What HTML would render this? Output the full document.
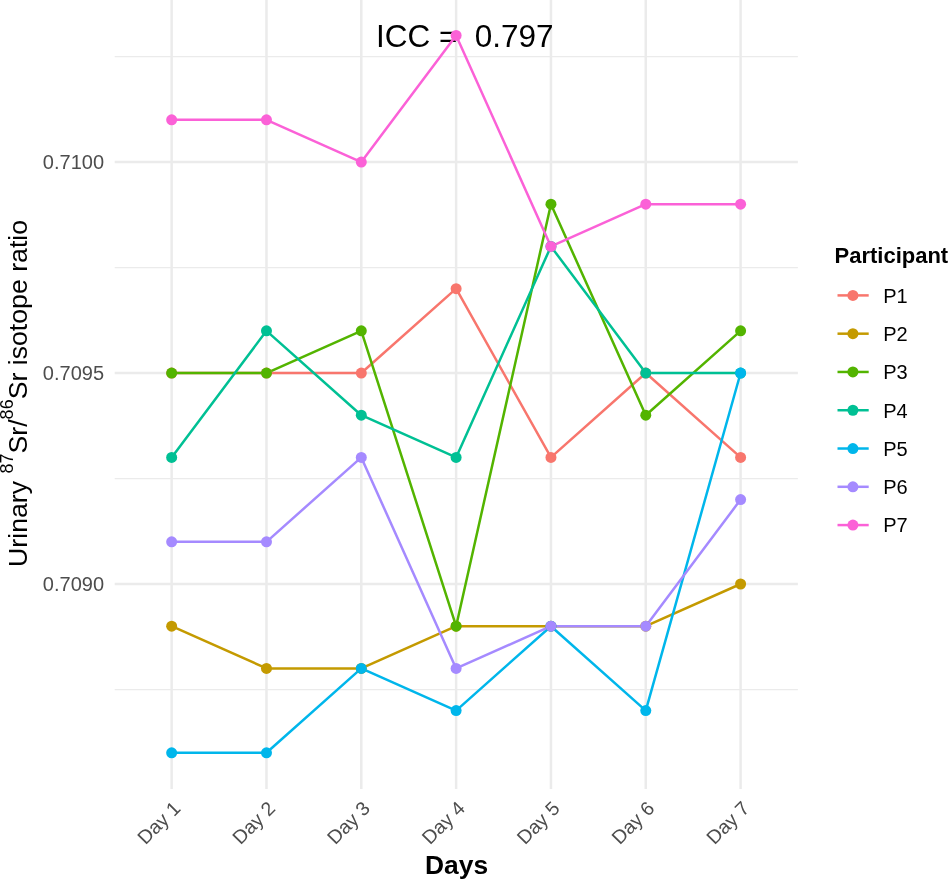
<!DOCTYPE html><html><head><meta charset="utf-8"><style>html,body{margin:0;padding:0;background:#fff;}svg{display:block;will-change:transform;}text{font-family:"Liberation Sans",sans-serif;}</style></head><body>
<svg width="948" height="880" viewBox="0 0 948 880">
<rect width="948" height="880" fill="#fff"/>
<line x1="114.7" x2="797.9" y1="56.54" y2="56.54" stroke="#EBEBEB" stroke-width="1.25"/>
<line x1="114.7" x2="797.9" y1="267.53" y2="267.53" stroke="#EBEBEB" stroke-width="1.25"/>
<line x1="114.7" x2="797.9" y1="478.51" y2="478.51" stroke="#EBEBEB" stroke-width="1.25"/>
<line x1="114.7" x2="797.9" y1="689.50" y2="689.50" stroke="#EBEBEB" stroke-width="1.25"/>
<line x1="114.7" x2="797.9" y1="162.04" y2="162.04" stroke="#EBEBEB" stroke-width="2.5"/>
<line x1="114.7" x2="797.9" y1="373.02" y2="373.02" stroke="#EBEBEB" stroke-width="2.5"/>
<line x1="114.7" x2="797.9" y1="584.01" y2="584.01" stroke="#EBEBEB" stroke-width="2.5"/>
<line x1="171.65" x2="171.65" y1="-0.9" y2="788.9" stroke="#EBEBEB" stroke-width="2.5"/>
<line x1="266.48" x2="266.48" y1="-0.9" y2="788.9" stroke="#EBEBEB" stroke-width="2.5"/>
<line x1="361.30" x2="361.30" y1="-0.9" y2="788.9" stroke="#EBEBEB" stroke-width="2.5"/>
<line x1="456.12" x2="456.12" y1="-0.9" y2="788.9" stroke="#EBEBEB" stroke-width="2.5"/>
<line x1="550.95" x2="550.95" y1="-0.9" y2="788.9" stroke="#EBEBEB" stroke-width="2.5"/>
<line x1="645.77" x2="645.77" y1="-0.9" y2="788.9" stroke="#EBEBEB" stroke-width="2.5"/>
<line x1="740.60" x2="740.60" y1="-0.9" y2="788.9" stroke="#EBEBEB" stroke-width="2.5"/>
<text x="375.9" y="46.8" font-size="31.5" fill="#000" style="white-space:pre">ICC =  0.797</text>
<polyline points="171.65,373.02 266.48,373.02 361.30,373.02 456.12,288.63 550.95,457.42 645.77,373.02 740.60,457.42" fill="none" stroke="#F8766D" stroke-width="2.5" stroke-linejoin="round" stroke-linecap="butt"/>
<polyline points="171.65,626.20 266.48,668.40 361.30,668.40 456.12,626.20 550.95,626.20 645.77,626.20 740.60,584.01" fill="none" stroke="#C49A00" stroke-width="2.5" stroke-linejoin="round" stroke-linecap="butt"/>
<polyline points="171.65,373.02 266.48,373.02 361.30,330.82 456.12,626.20 550.95,204.23 645.77,415.22 740.60,330.82" fill="none" stroke="#53B400" stroke-width="2.5" stroke-linejoin="round" stroke-linecap="butt"/>
<polyline points="171.65,457.42 266.48,330.82 361.30,415.22 456.12,457.42 550.95,246.43 645.77,373.02 740.60,373.02" fill="none" stroke="#00C094" stroke-width="2.5" stroke-linejoin="round" stroke-linecap="butt"/>
<polyline points="171.65,752.79 266.48,752.79 361.30,668.40 456.12,710.60 550.95,626.20 645.77,710.60 740.60,373.02" fill="none" stroke="#00B6EB" stroke-width="2.5" stroke-linejoin="round" stroke-linecap="butt"/>
<polyline points="171.65,541.81 266.48,541.81 361.30,457.42 456.12,668.40 550.95,626.20 645.77,626.20 740.60,499.61" fill="none" stroke="#A58AFF" stroke-width="2.5" stroke-linejoin="round" stroke-linecap="butt"/>
<polyline points="171.65,119.84 266.48,119.84 361.30,162.04 456.12,35.45 550.95,246.43 645.77,204.23 740.60,204.23" fill="none" stroke="#FB61D7" stroke-width="2.5" stroke-linejoin="round" stroke-linecap="butt"/>
<circle cx="171.65" cy="373.02" r="5.5" fill="#F8766D"/>
<circle cx="266.48" cy="373.02" r="5.5" fill="#F8766D"/>
<circle cx="361.30" cy="373.02" r="5.5" fill="#F8766D"/>
<circle cx="456.12" cy="288.63" r="5.5" fill="#F8766D"/>
<circle cx="550.95" cy="457.42" r="5.5" fill="#F8766D"/>
<circle cx="645.77" cy="373.02" r="5.5" fill="#F8766D"/>
<circle cx="740.60" cy="457.42" r="5.5" fill="#F8766D"/>
<circle cx="171.65" cy="626.20" r="5.5" fill="#C49A00"/>
<circle cx="266.48" cy="668.40" r="5.5" fill="#C49A00"/>
<circle cx="361.30" cy="668.40" r="5.5" fill="#C49A00"/>
<circle cx="456.12" cy="626.20" r="5.5" fill="#C49A00"/>
<circle cx="550.95" cy="626.20" r="5.5" fill="#C49A00"/>
<circle cx="645.77" cy="626.20" r="5.5" fill="#C49A00"/>
<circle cx="740.60" cy="584.01" r="5.5" fill="#C49A00"/>
<circle cx="171.65" cy="373.02" r="5.5" fill="#53B400"/>
<circle cx="266.48" cy="373.02" r="5.5" fill="#53B400"/>
<circle cx="361.30" cy="330.82" r="5.5" fill="#53B400"/>
<circle cx="456.12" cy="626.20" r="5.5" fill="#53B400"/>
<circle cx="550.95" cy="204.23" r="5.5" fill="#53B400"/>
<circle cx="645.77" cy="415.22" r="5.5" fill="#53B400"/>
<circle cx="740.60" cy="330.82" r="5.5" fill="#53B400"/>
<circle cx="171.65" cy="457.42" r="5.5" fill="#00C094"/>
<circle cx="266.48" cy="330.82" r="5.5" fill="#00C094"/>
<circle cx="361.30" cy="415.22" r="5.5" fill="#00C094"/>
<circle cx="456.12" cy="457.42" r="5.5" fill="#00C094"/>
<circle cx="550.95" cy="246.43" r="5.5" fill="#00C094"/>
<circle cx="645.77" cy="373.02" r="5.5" fill="#00C094"/>
<circle cx="740.60" cy="373.02" r="5.5" fill="#00C094"/>
<circle cx="171.65" cy="752.79" r="5.5" fill="#00B6EB"/>
<circle cx="266.48" cy="752.79" r="5.5" fill="#00B6EB"/>
<circle cx="361.30" cy="668.40" r="5.5" fill="#00B6EB"/>
<circle cx="456.12" cy="710.60" r="5.5" fill="#00B6EB"/>
<circle cx="550.95" cy="626.20" r="5.5" fill="#00B6EB"/>
<circle cx="645.77" cy="710.60" r="5.5" fill="#00B6EB"/>
<circle cx="740.60" cy="373.02" r="5.5" fill="#00B6EB"/>
<circle cx="171.65" cy="541.81" r="5.5" fill="#A58AFF"/>
<circle cx="266.48" cy="541.81" r="5.5" fill="#A58AFF"/>
<circle cx="361.30" cy="457.42" r="5.5" fill="#A58AFF"/>
<circle cx="456.12" cy="668.40" r="5.5" fill="#A58AFF"/>
<circle cx="550.95" cy="626.20" r="5.5" fill="#A58AFF"/>
<circle cx="645.77" cy="626.20" r="5.5" fill="#A58AFF"/>
<circle cx="740.60" cy="499.61" r="5.5" fill="#A58AFF"/>
<circle cx="171.65" cy="119.84" r="5.5" fill="#FB61D7"/>
<circle cx="266.48" cy="119.84" r="5.5" fill="#FB61D7"/>
<circle cx="361.30" cy="162.04" r="5.5" fill="#FB61D7"/>
<circle cx="456.12" cy="35.45" r="5.5" fill="#FB61D7"/>
<circle cx="550.95" cy="246.43" r="5.5" fill="#FB61D7"/>
<circle cx="645.77" cy="204.23" r="5.5" fill="#FB61D7"/>
<circle cx="740.60" cy="204.23" r="5.5" fill="#FB61D7"/>
<text x="104.0" y="169.04" font-size="20" fill="#4D4D4D" text-anchor="end">0.7100</text>
<text x="104.0" y="380.02" font-size="20" fill="#4D4D4D" text-anchor="end">0.7095</text>
<text x="104.0" y="591.01" font-size="20" fill="#4D4D4D" text-anchor="end">0.7090</text>
<text transform="translate(181.65,809.50) rotate(-45)" font-size="19.5" fill="#4D4D4D" text-anchor="end">Day 1</text>
<text transform="translate(276.48,809.50) rotate(-45)" font-size="19.5" fill="#4D4D4D" text-anchor="end">Day 2</text>
<text transform="translate(371.30,809.50) rotate(-45)" font-size="19.5" fill="#4D4D4D" text-anchor="end">Day 3</text>
<text transform="translate(466.12,809.50) rotate(-45)" font-size="19.5" fill="#4D4D4D" text-anchor="end">Day 4</text>
<text transform="translate(560.95,809.50) rotate(-45)" font-size="19.5" fill="#4D4D4D" text-anchor="end">Day 5</text>
<text transform="translate(655.77,809.50) rotate(-45)" font-size="19.5" fill="#4D4D4D" text-anchor="end">Day 6</text>
<text transform="translate(750.60,809.50) rotate(-45)" font-size="19.5" fill="#4D4D4D" text-anchor="end">Day 7</text>
<text x="456.6" y="874" font-size="26.4" font-weight="bold" fill="#000" text-anchor="middle">Days</text>
<text transform="translate(27.0,393.4) rotate(-90)" font-size="26.7" fill="#000" text-anchor="middle">Urinary <tspan font-size="18" dy="-13.6">87</tspan><tspan dy="13.6">Sr/</tspan><tspan font-size="18" dy="-13.6">86</tspan><tspan dy="13.6">Sr isotope ratio</tspan></text>
<text x="834.5" y="262.8" font-size="22" font-weight="bold" fill="#000">Participant</text>
<line x1="837.5" x2="868.7" y1="295.40" y2="295.40" stroke="#F8766D" stroke-width="2.5"/>
<circle cx="852.9" cy="295.40" r="5.5" fill="#F8766D"/>
<text x="883.2" y="302.80" font-size="20" fill="#000">P1</text>
<line x1="837.5" x2="868.7" y1="333.68" y2="333.68" stroke="#C49A00" stroke-width="2.5"/>
<circle cx="852.9" cy="333.68" r="5.5" fill="#C49A00"/>
<text x="883.2" y="341.08" font-size="20" fill="#000">P2</text>
<line x1="837.5" x2="868.7" y1="371.96" y2="371.96" stroke="#53B400" stroke-width="2.5"/>
<circle cx="852.9" cy="371.96" r="5.5" fill="#53B400"/>
<text x="883.2" y="379.36" font-size="20" fill="#000">P3</text>
<line x1="837.5" x2="868.7" y1="410.24" y2="410.24" stroke="#00C094" stroke-width="2.5"/>
<circle cx="852.9" cy="410.24" r="5.5" fill="#00C094"/>
<text x="883.2" y="417.64" font-size="20" fill="#000">P4</text>
<line x1="837.5" x2="868.7" y1="448.52" y2="448.52" stroke="#00B6EB" stroke-width="2.5"/>
<circle cx="852.9" cy="448.52" r="5.5" fill="#00B6EB"/>
<text x="883.2" y="455.92" font-size="20" fill="#000">P5</text>
<line x1="837.5" x2="868.7" y1="486.80" y2="486.80" stroke="#A58AFF" stroke-width="2.5"/>
<circle cx="852.9" cy="486.80" r="5.5" fill="#A58AFF"/>
<text x="883.2" y="494.20" font-size="20" fill="#000">P6</text>
<line x1="837.5" x2="868.7" y1="525.08" y2="525.08" stroke="#FB61D7" stroke-width="2.5"/>
<circle cx="852.9" cy="525.08" r="5.5" fill="#FB61D7"/>
<text x="883.2" y="532.48" font-size="20" fill="#000">P7</text>
</svg></body></html>
